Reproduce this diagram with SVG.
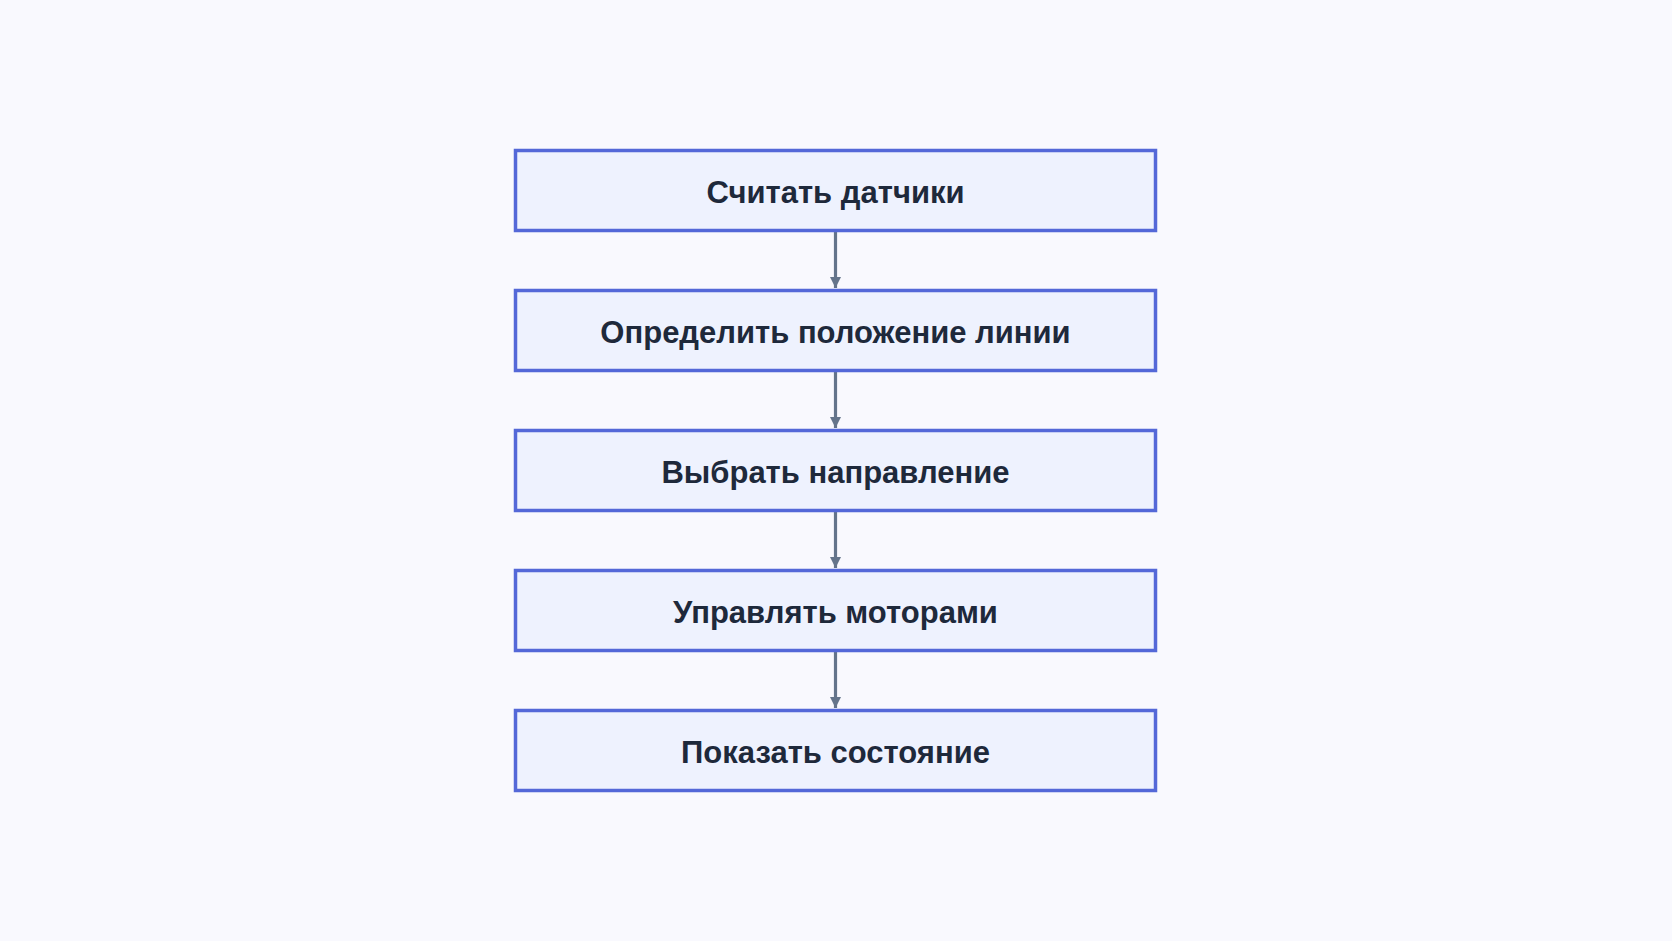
<svg xmlns="http://www.w3.org/2000/svg" width="1672" height="941" viewBox="0 0 1672 941">
<style>
.box{fill:#eef2fe;stroke:#5468d8;stroke-width:3.5}
.lbl{font-family:"Liberation Sans",Arial,sans-serif;font-weight:bold;font-size:31px;fill:#1e293b;text-anchor:middle}
.edge{stroke:#64748b;stroke-width:3.2;fill:none}
</style>
<defs>
<marker id="arr" viewBox="0 0 11 11" refX="11" refY="5.5" markerWidth="11" markerHeight="11" markerUnits="userSpaceOnUse" orient="auto">
<path d="M0,0 L11,5.5 L0,11 Z" fill="#64748b"/>
</marker>
</defs>
<rect width="1672" height="941" fill="#f9f9fe"/>
<g id="connectors">
<line class="edge" x1="835.5" y1="232" x2="835.5" y2="288" marker-end="url(#arr)"/>
<line class="edge" x1="835.5" y1="372" x2="835.5" y2="428" marker-end="url(#arr)"/>
<line class="edge" x1="835.5" y1="512" x2="835.5" y2="568" marker-end="url(#arr)"/>
<line class="edge" x1="835.5" y1="652" x2="835.5" y2="708" marker-end="url(#arr)"/>
</g>
<g id="n1"><rect class="box" x="515.5" y="150.5" width="640" height="80"/><text class="lbl" x="835.5" y="203">Считать датчики</text></g>
<g id="n2"><rect class="box" x="515.5" y="290.5" width="640" height="80"/><text class="lbl" x="835.5" y="343">Определить положение линии</text></g>
<g id="n3"><rect class="box" x="515.5" y="430.5" width="640" height="80"/><text class="lbl" x="835.5" y="483">Выбрать направление</text></g>
<g id="n4"><rect class="box" x="515.5" y="570.5" width="640" height="80"/><text class="lbl" x="835.5" y="623">Управлять моторами</text></g>
<g id="n5"><rect class="box" x="515.5" y="710.5" width="640" height="80"/><text class="lbl" x="835.5" y="763">Показать состояние</text></g>
</svg>
